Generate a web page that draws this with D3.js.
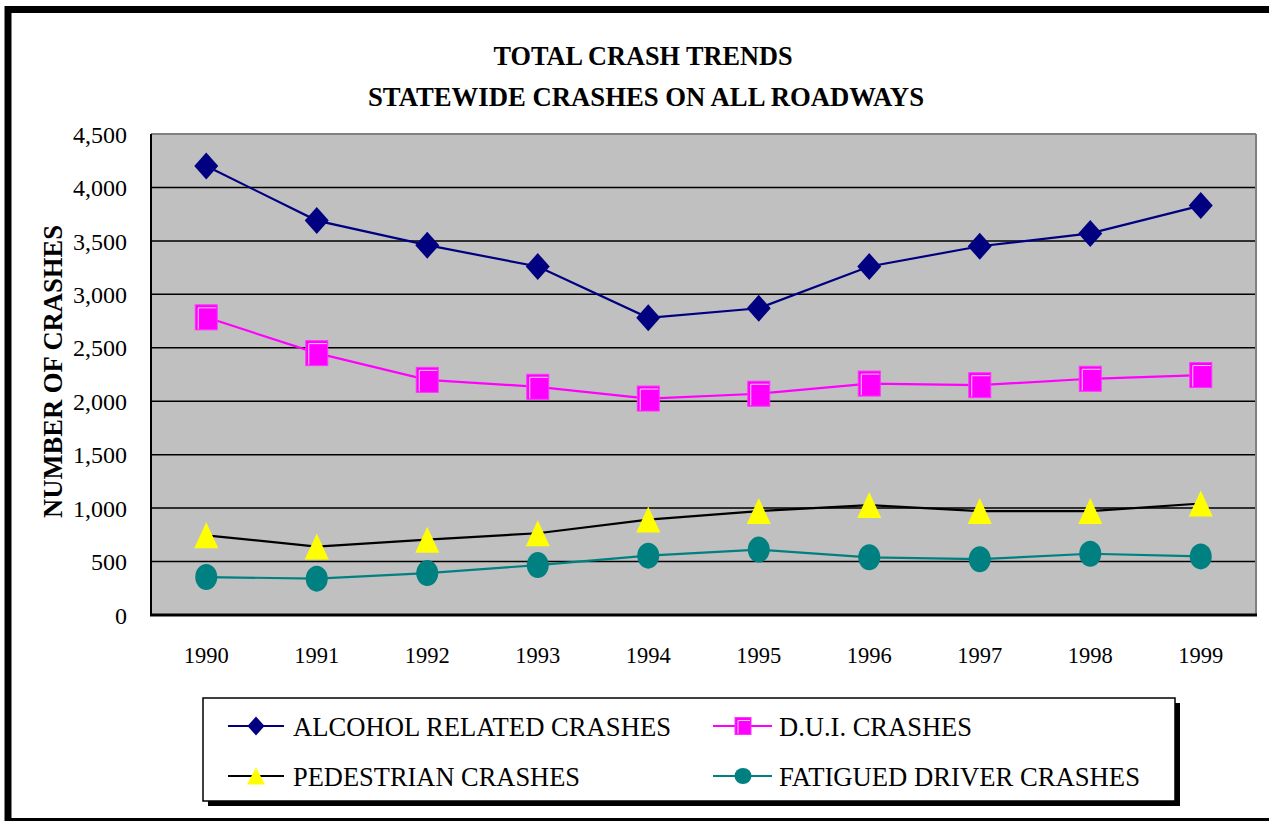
<!DOCTYPE html>
<html>
<head>
<meta charset="utf-8">
<script src="https://cdn.jsdelivr.net/npm/d3@7"></script>
<style>
  html, body { margin: 0; padding: 0; background: #ffffff; }
  svg { display: block; }
</style>
</head>
<body>
<svg id="chart" width="1269" height="821"></svg>
<script>
// ---------- DATA ----------
const years = ["1990","1991","1992","1993","1994","1995","1996","1997","1998","1999"];
const alcohol    = [4200, 3690, 3460, 3260, 2780, 2870, 3260, 3450, 3570, 3830];
const dui        = [2785, 2450, 2200, 2135, 2025, 2070, 2165, 2150, 2210, 2245];
const pedestrian = [745, 640, 705, 765, 893, 972, 1028, 972, 972, 1043];
const fatigued   = [355, 340, 392, 467, 555, 612, 540, 522, 573, 548];
const yTicks = [0, 500, 1000, 1500, 2000, 2500, 3000, 3500, 4000, 4500];
const titleLines = ["TOTAL CRASH TRENDS", "STATEWIDE CRASHES ON ALL ROADWAYS"];
const yAxisTitle = "NUMBER OF CRASHES";
const seriesNames = ["ALCOHOL RELATED CRASHES", "D.U.I. CRASHES", "PEDESTRIAN CRASHES", "FATIGUED DRIVER CRASHES"];

// ---------- STYLE / LAYOUT ----------
const FONT = "'Liberation Serif', 'Times New Roman', Times, serif";
const series = [
  { name: seriesNames[0], values: alcohol,    line: "#000080", fill: "#000080", shape: "diamond",  legendLen: 378 },
  { name: seriesNames[1], values: dui,        line: "#FF00FF", fill: "#FF00FF", shape: "square",   legendLen: 193 },
  { name: seriesNames[2], values: pedestrian, line: "#000000", fill: "#FFFF00", shape: "triangle", legendLen: 287 },
  { name: seriesNames[3], values: fatigued,   line: "#008080", fill: "#008080", shape: "circle",   legendLen: 361 }
];

const plot = { left: 151, right: 1256, top: 134, bottom: 615 };
const svg = d3.select("#chart");

// outer frame
svg.append("rect")
  .attr("x", 8).attr("y", 9.5).attr("width", 1300).attr("height", 812)
  .attr("fill", "#ffffff").attr("stroke", "#000").attr("stroke-width", 7);

const x = d3.scaleBand().domain(years).range([plot.left, plot.right]);
const y = d3.scaleLinear().domain([0, 4500]).range([plot.bottom, plot.top]);
const cx = d => x(d) + x.bandwidth() / 2;

// plot background
svg.append("rect")
  .attr("x", plot.left).attr("y", plot.top)
  .attr("width", plot.right - plot.left).attr("height", plot.bottom - plot.top)
  .attr("fill", "#C0C0C0");

// gridlines
svg.append("g").selectAll("line")
  .data(yTicks.filter(t => t > 0 && t < 4500))
  .join("line")
  .attr("x1", plot.left).attr("x2", plot.right)
  .attr("y1", d => y(d)).attr("y2", d => y(d))
  .attr("stroke", "#000").attr("stroke-width", 1.5);

// plot border: top/right gray, left/bottom black
svg.append("line").attr("x1", plot.left).attr("x2", plot.right).attr("y1", plot.top).attr("y2", plot.top)
  .attr("stroke", "#808080").attr("stroke-width", 2);
svg.append("line").attr("x1", plot.right).attr("x2", plot.right).attr("y1", plot.top).attr("y2", plot.bottom)
  .attr("stroke", "#808080").attr("stroke-width", 2);
svg.append("line").attr("x1", plot.left).attr("x2", plot.left).attr("y1", plot.top).attr("y2", plot.bottom + 1)
  .attr("stroke", "#000").attr("stroke-width", 2);
svg.append("line").attr("x1", plot.left - 1).attr("x2", plot.right + 1).attr("y1", plot.bottom).attr("y2", plot.bottom)
  .attr("stroke", "#000").attr("stroke-width", 3);

// y axis
const yAxis = d3.axisLeft(y).tickValues(yTicks).tickFormat(d3.format(",")).tickSize(0).tickPadding(0);
const gy = svg.append("g").attr("transform", `translate(127,0)`).call(yAxis);
gy.select(".domain").remove();
gy.selectAll("text")
  .style("font-family", FONT).style("font-size", "24px")
  .attr("fill", "#000").attr("dy", "0.34em");

// x axis
const xAxis = d3.axisBottom(x).tickSize(0).tickPadding(0);
const gx = svg.append("g").attr("transform", `translate(0,${plot.bottom})`).call(xAxis);
gx.select(".domain").remove();
gx.selectAll("text")
  .style("font-family", FONT).style("font-size", "24px")
  .attr("textLength", 45).attr("lengthAdjust", "spacingAndGlyphs")
  .attr("fill", "#000").attr("y", 48).attr("dy", 0);

// titles
svg.append("text").attr("x", 643).attr("y", 65).attr("text-anchor", "middle")
  .style("font-family", FONT).style("font-size", "27px").style("font-weight", "bold")
  .attr("textLength", 299).attr("lengthAdjust", "spacingAndGlyphs")
  .text(titleLines[0]);
svg.append("text").attr("x", 646).attr("y", 105.5).attr("text-anchor", "middle")
  .style("font-family", FONT).style("font-size", "27px").style("font-weight", "bold")
  .attr("textLength", 556).attr("lengthAdjust", "spacingAndGlyphs")
  .text(titleLines[1]);

// y axis title
svg.append("text")
  .attr("transform", "translate(62,371.5) rotate(-90)")
  .attr("text-anchor", "middle")
  .style("font-family", FONT).style("font-size", "27px").style("font-weight", "bold")
  .attr("textLength", 293).attr("lengthAdjust", "spacingAndGlyphs")
  .text(yAxisTitle);

// marker drawing
function drawMarker(g, shape, fill, w, h) {
  if (shape === "diamond") {
    g.append("path").attr("d", `M0,${-h/2}L${w/2},0L0,${h/2}L${-w/2},0Z`).attr("fill", fill);
  } else if (shape === "square") {
    g.append("rect").attr("x", -w/2).attr("y", -h/2).attr("width", w).attr("height", h)
      .attr("fill", fill).attr("stroke", "#FF33FF").attr("stroke-width", 1);
    const i = 3;
    g.append("path")
      .attr("d", `M${-w/2 + i},${h/2 - 1}L${-w/2 + i},${-h/2 + i}L${w/2 - 1},${-h/2 + i}`)
      .attr("fill", "none").attr("stroke", "#FFD0FF").attr("stroke-width", 1);
  } else if (shape === "triangle") {
    g.append("path").attr("d", `M0,${-h/2}L${w/2},${h/2}L${-w/2},${h/2}Z`).attr("fill", fill);
  } else if (shape === "circle") {
    g.append("ellipse").attr("rx", w/2).attr("ry", h/2).attr("fill", fill);
  }
}
const markerSize = {
  diamond: [24, 27], square: [22, 25], triangle: [24, 26], circle: [22, 26]
};
const legendMarkerSize = {
  diamond: [17, 19], square: [16, 17], triangle: [18, 17], circle: [17, 16]
};

const lineGen = d3.line().x((d, i) => cx(years[i])).y(d => y(d));

series.forEach(s => {
  const g = svg.append("g");
  g.append("path").datum(s.values).attr("d", lineGen)
    .attr("fill", "none").attr("stroke", s.line).attr("stroke-width", 2.2);
  s.values.forEach((v, i) => {
    const m = g.append("g").attr("transform", `translate(${cx(years[i])},${y(v)})`);
    drawMarker(m, s.shape, s.fill, markerSize[s.shape][0], markerSize[s.shape][1]);
  });
});

// legend
const lg = svg.append("g");
lg.append("rect").attr("x", 208).attr("y", 703).attr("width", 972).attr("height", 103).attr("fill", "#000");
lg.append("rect").attr("x", 203).attr("y", 698).attr("width", 972).attr("height", 103)
  .attr("fill", "#fff").attr("stroke", "#000").attr("stroke-width", 1.5);

const legendPos = [
  { lx1: 228, lx2: 284, mx: 256, tx: 293, cy: 726, by: 736 },
  { lx1: 713, lx2: 772, mx: 743, tx: 779, cy: 726, by: 736 },
  { lx1: 228, lx2: 284, mx: 256, tx: 293, cy: 776, by: 786 },
  { lx1: 713, lx2: 772, mx: 743, tx: 779, cy: 776, by: 786 }
];
series.forEach((s, i) => {
  const p = legendPos[i];
  lg.append("line").attr("x1", p.lx1).attr("x2", p.lx2).attr("y1", p.cy).attr("y2", p.cy)
    .attr("stroke", s.line).attr("stroke-width", 2.2);
  const m = lg.append("g").attr("transform", `translate(${p.mx},${p.cy})`);
  drawMarker(m, s.shape, s.fill, legendMarkerSize[s.shape][0], legendMarkerSize[s.shape][1]);
  lg.append("text").attr("x", p.tx).attr("y", p.by)
    .style("font-family", FONT).style("font-size", "28px")
    .attr("textLength", s.legendLen).attr("lengthAdjust", "spacingAndGlyphs")
    .text(s.name);
});
</script>
</body>
</html>
